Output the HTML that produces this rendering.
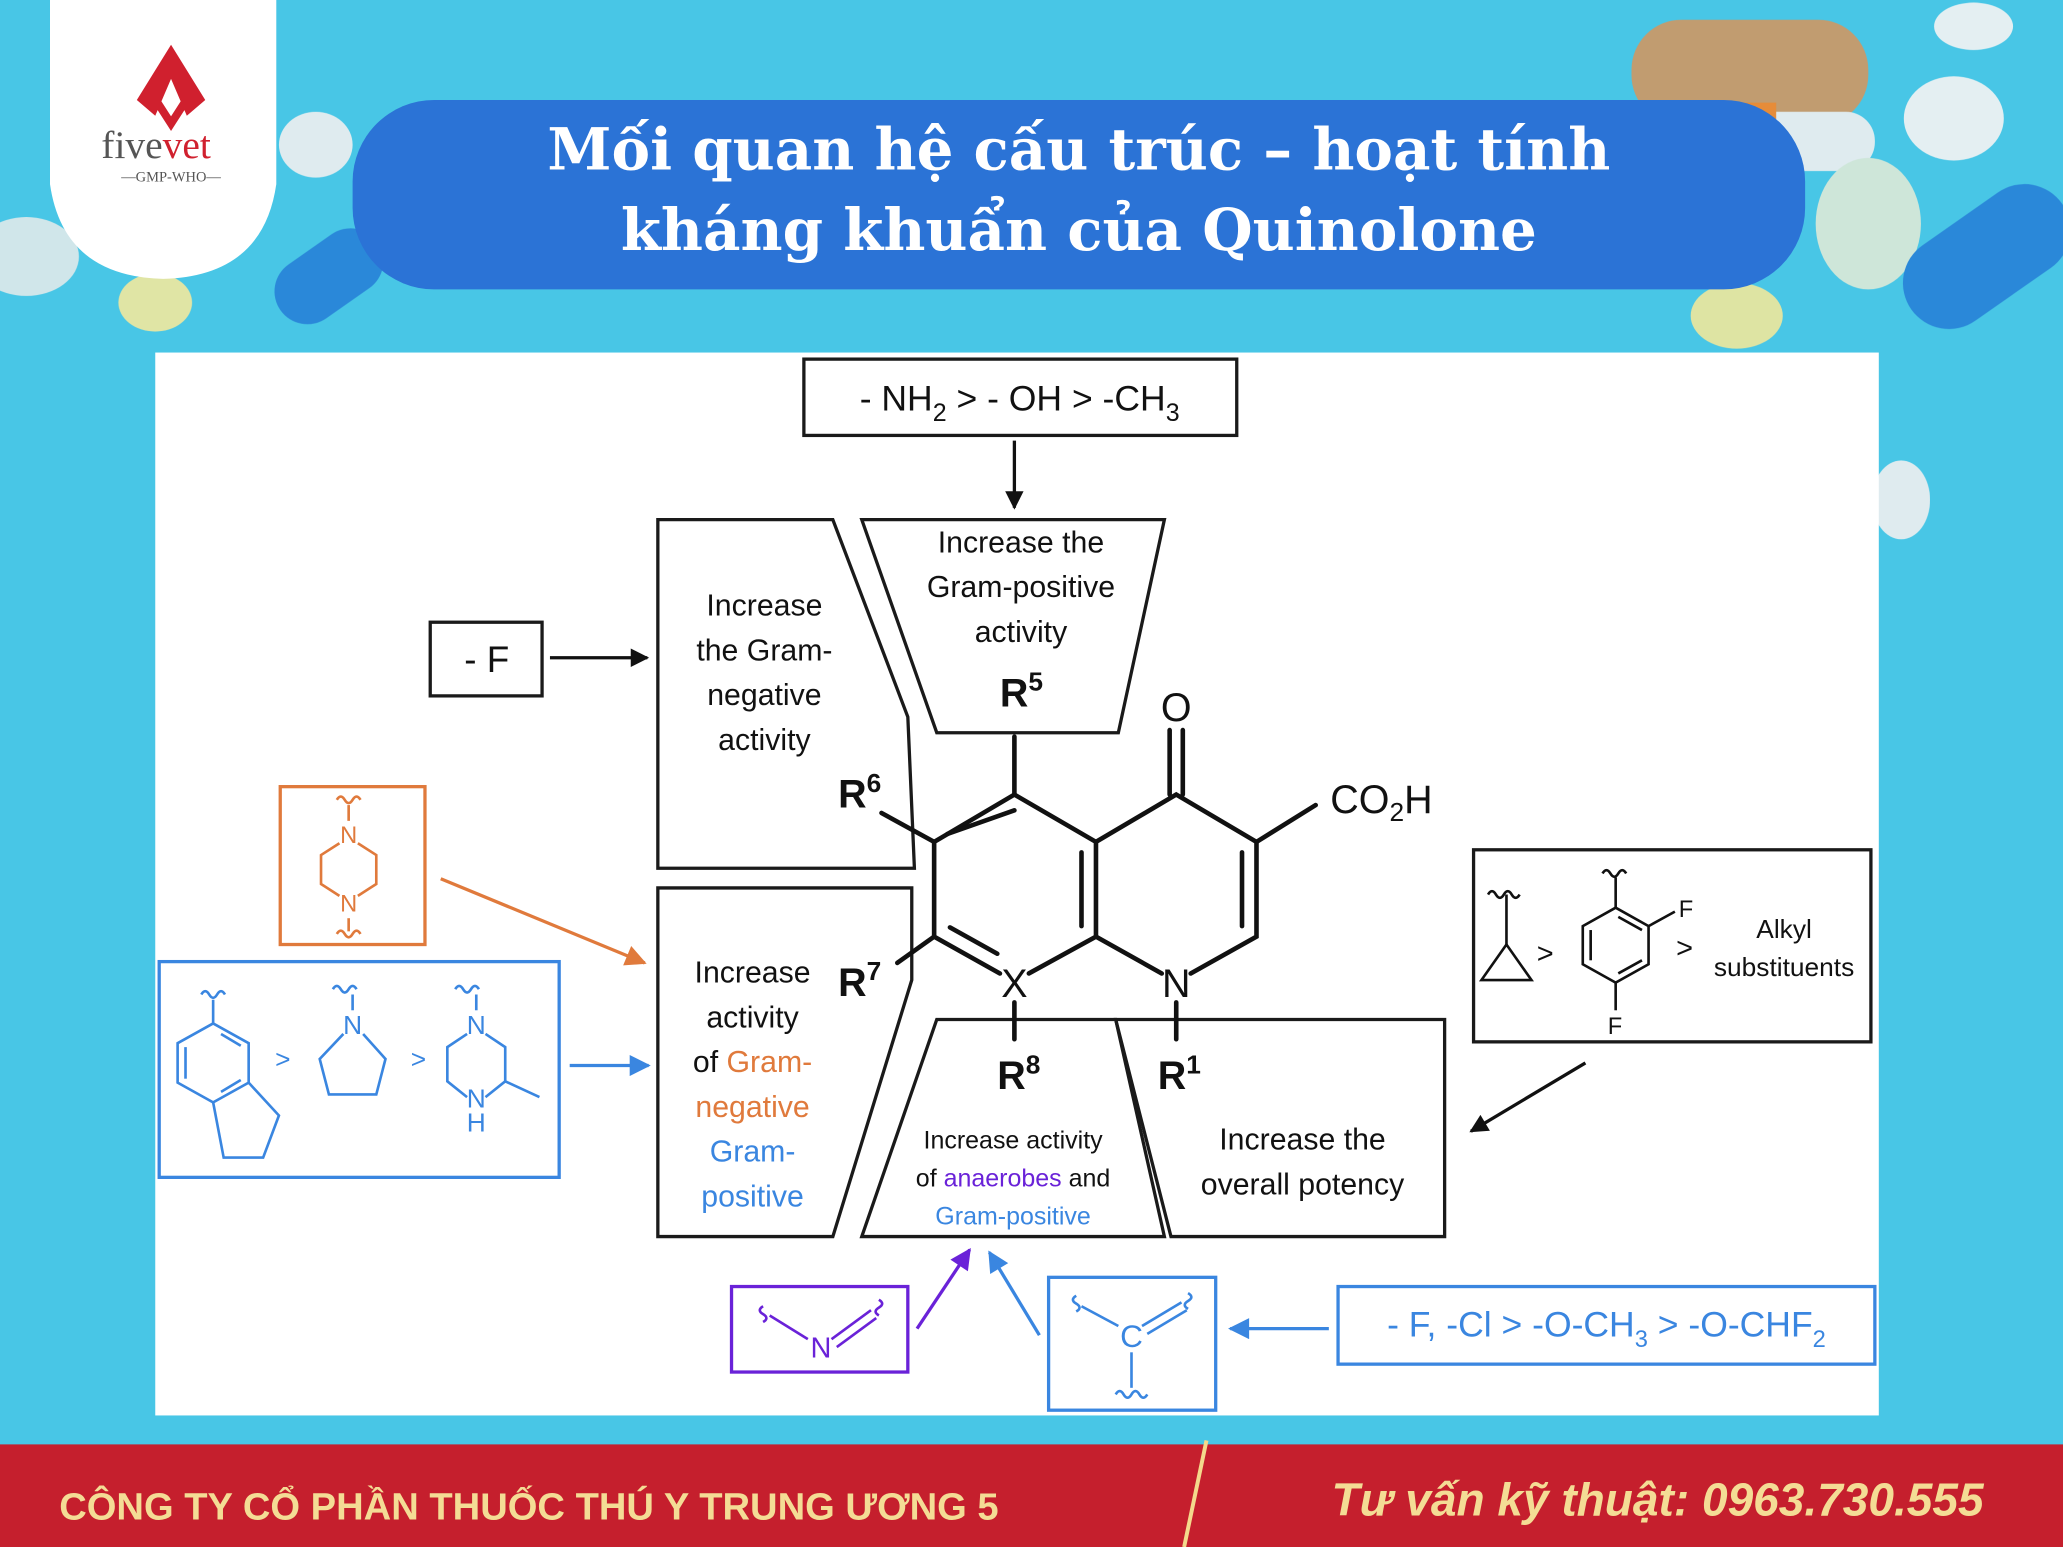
<!DOCTYPE html>
<html><head><meta charset="utf-8"><style>
html,body{margin:0;padding:0;background:#48c6e6;}
svg{display:block;font-family:"Liberation Sans",sans-serif;}
</style></head><body>
<svg width="2063" height="1547" viewBox="0 0 1568 1176" preserveAspectRatio="none" xmlns="http://www.w3.org/2000/svg">
<defs>
<marker id="ak" viewBox="0 0 10 10" markerWidth="18" markerHeight="14" refX="9" refY="5" orient="auto" markerUnits="userSpaceOnUse"><path d="M0,0 L10,5 L0,10 Z" fill="#111"/></marker>
<marker id="ao" viewBox="0 0 10 10" markerWidth="22" markerHeight="16" refX="9" refY="5" orient="auto" markerUnits="userSpaceOnUse"><path d="M0,0 L10,5 L0,10 Z" fill="#e07a3c"/></marker>
<marker id="abl" viewBox="0 0 10 10" markerWidth="22" markerHeight="16" refX="9" refY="5" orient="auto" markerUnits="userSpaceOnUse"><path d="M0,0 L10,5 L0,10 Z" fill="#3a86e0"/></marker>
<marker id="ap" viewBox="0 0 10 10" markerWidth="22" markerHeight="16" refX="9" refY="5" orient="auto" markerUnits="userSpaceOnUse"><path d="M0,0 L10,5 L0,10 Z" fill="#6a22d8"/></marker>
</defs>
<rect width="1568" height="1176" fill="#48c6e6"/>
<g opacity="0.95">
<rect x="1240" y="15" width="180" height="80" rx="38" fill="#c99a6a"/>
<rect x="1300" y="85" width="125" height="45" rx="22" fill="#e8eef0"/>
<rect x="1290" y="78" width="60" height="40" fill="#f08a30"/>
<ellipse cx="1485" cy="90" rx="38" ry="32" fill="#eef2f3"/>
<ellipse cx="1420" cy="170" rx="40" ry="50" fill="#d6e8d8"/>
<ellipse cx="1320" cy="240" rx="35" ry="25" fill="#e7e6a0"/>
<ellipse cx="1500" cy="20" rx="30" ry="18" fill="#eef2f3"/>
<rect x="1440" y="160" width="140" height="70" rx="35" fill="#2a85d8" transform="rotate(-35 1510 195)"/>
<ellipse cx="240" cy="110" rx="28" ry="25" fill="#e8eef0"/>
<rect x="205" y="185" width="90" height="50" rx="25" fill="#2a85d8" transform="rotate(-35 250 210)"/>
<ellipse cx="118" cy="230" rx="28" ry="22" fill="#e9e7a2"/>
<ellipse cx="20" cy="195" rx="40" ry="30" fill="#d8e8ea"/>
<ellipse cx="1445" cy="380" rx="22" ry="30" fill="#e8eef0"/>
</g>
<path d="M38,0 L210,0 L210,140 Q200,210 124,212 Q48,210 38,140 Z" fill="#fff"/>
<path d="M130,34 L104,76 L118,88 L130,60 L142,88 L156,76 Z" fill="#d0202e"/>
<path d="M112,66 L130,94 L148,66" stroke="#d0202e" stroke-width="6" fill="none"/>
<text x="77" y="120" style="font-family:'Liberation Serif',serif" font-size="30" fill="#555">five<tspan fill="#d0202e">vet</tspan></text>
<text x="130" y="138" text-anchor="middle" style="font-family:'Liberation Serif',serif" font-size="11" fill="#555">—GMP-WHO—</text>
<rect x="268" y="76" width="1104" height="144" rx="62" fill="#2b73d6"/>
<text x="820" y="129" text-anchor="middle" style="font-family:'DejaVu Serif','Liberation Serif',serif" font-weight="bold" font-size="44" fill="#fff">Mối quan hệ cấu trúc – hoạt tính</text>
<text x="820" y="190" text-anchor="middle" style="font-family:'DejaVu Serif','Liberation Serif',serif" font-weight="bold" font-size="44" fill="#fff">kháng khuẩn của Quinolone</text>
<rect x="118" y="268" width="1310" height="808" fill="#fff"/>
<g stroke="#1a1a1a" stroke-width="2.5" fill="none">
<rect x="611" y="273" width="329" height="58"/>
<polygon points="655,395 885,395 850,557 712,557"/>
<polygon points="500,395 633,395 690,545 695,660 500,660"/>
<rect x="327" y="473" width="85" height="56"/>
<polygon points="500,675 693,675 693,745 633,940 500,940"/>
<polygon points="712,775 848,775 885,940 655,940"/>
<polygon points="848,775 1098,775 1098,940 890,940"/>
<rect x="1120" y="646" width="302" height="146"/>
</g>
<line x1="771" y1="335" x2="771" y2="386" stroke="#111" stroke-width="2.5" marker-end="url(#ak)"/>
<line x1="418" y1="500" x2="492" y2="500" stroke="#111" stroke-width="2.5" marker-end="url(#ak)"/>
<line x1="1205" y1="808" x2="1118" y2="860" stroke="#111" stroke-width="2.5" marker-end="url(#ak)"/>
<text x="775" y="312" text-anchor="middle" font-size="27" fill="#111">- NH<tspan font-size="19" dy="8">2</tspan><tspan dy="-8"> &gt; - OH &gt; -CH</tspan><tspan font-size="19" dy="8">3</tspan></text>
<text x="370" y="511" text-anchor="middle" font-size="28" fill="#111">- F</text>
<g font-size="23" fill="#111" text-anchor="middle">
<text x="776" y="420">Increase the</text><text x="776" y="454">Gram-positive</text><text x="776" y="488">activity</text>
<text x="581" y="468">Increase</text><text x="581" y="502">the Gram-</text><text x="581" y="536">negative</text><text x="581" y="570">activity</text>
<text x="572" y="747">Increase</text><text x="572" y="781">activity</text>
<text x="572" y="815">of <tspan fill="#e07a3c">Gram-</tspan></text>
<text x="572" y="849" fill="#e07a3c">negative</text>
<text x="572" y="883" fill="#3a86e0">Gram-</text>
<text x="572" y="917" fill="#3a86e0">positive</text>
<text x="990" y="874">Increase the</text><text x="990" y="908">overall potency</text>
</g>
<g font-size="19" fill="#111" text-anchor="middle">
<text x="770" y="873">Increase activity</text>
<text x="770" y="902">of <tspan fill="#6a22d8">anaerobes</tspan> and</text>
<text x="770" y="931" fill="#3a86e0">Gram-positive</text>
</g>
<g stroke="#111" stroke-width="3.5" fill="none" stroke-linecap="round">
<polyline points="771,604 833,640 833,712 782,740"/>
<polyline points="760,740 710,712 710,640 771,604"/>
<polyline points="833,640 894,604 955,640 955,712 905,740"/>
<line x1="883" y1="740" x2="833" y2="712"/>
<line x1="822" y1="648" x2="822" y2="704"/>
<line x1="720" y1="634" x2="771" y2="616"/>
<line x1="722" y1="705" x2="758" y2="725"/>
<line x1="944" y1="648" x2="944" y2="704"/>
<line x1="889" y1="555" x2="889" y2="604"/><line x1="899" y1="555" x2="899" y2="604"/>
<line x1="955" y1="640" x2="1000" y2="612"/>
<line x1="771" y1="604" x2="771" y2="560"/>
<line x1="710" y1="640" x2="670" y2="618"/>
<line x1="710" y1="712" x2="682" y2="732"/>
<line x1="771" y1="762" x2="771" y2="790"/>
<line x1="894" y1="762" x2="894" y2="790"/>
</g>
<g font-size="30" fill="#111" text-anchor="middle">
<text x="894" y="548">O</text>
<text x="771" y="758">X</text>
<text x="894" y="758">N</text>
<text x="1050" y="618">CO<tspan font-size="20" dy="6">2</tspan><tspan dy="-6">H</tspan></text>
</g>
<g font-size="30" font-weight="bold" fill="#111">
<text x="760" y="537">R<tspan font-size="20" dy="-12">5</tspan></text>
<text x="637" y="614">R<tspan font-size="20" dy="-12">6</tspan></text>
<text x="637" y="757">R<tspan font-size="20" dy="-12">7</tspan></text>
<text x="758" y="828">R<tspan font-size="20" dy="-12">8</tspan></text>
<text x="880" y="828">R<tspan font-size="20" dy="-12">1</tspan></text>
</g>
<rect x="213" y="598" width="110" height="120" fill="none" stroke="#e07a3c" stroke-width="2.5"/>
<g stroke="#e07a3c" stroke-width="2" fill="none">
<path d="M256,608 q3,-5 6,0 q3,5 6,0 q3,-5 6,0"/><line x1="265" y1="612" x2="265" y2="624"/>
<polyline points="258,641 244,650 244,672 258,681"/><polyline points="272,641 286,650 286,672 272,681"/>
<line x1="265" y1="698" x2="265" y2="708"/><path d="M256,710 q3,-5 6,0 q3,5 6,0 q3,-5 6,0"/>
</g>
<text x="265" y="641" text-anchor="middle" font-size="18" fill="#e07a3c">N</text>
<text x="265" y="693" text-anchor="middle" font-size="18" fill="#e07a3c">N</text>
<line x1="335" y1="668" x2="490" y2="732" stroke="#e07a3c" stroke-width="2.5" marker-end="url(#ao)"/>
<rect x="121" y="731" width="304" height="164" fill="none" stroke="#3a86e0" stroke-width="2.5"/>
<g stroke="#3a86e0" stroke-width="2" fill="none">
<path d="M153,756 q3,-5 6,0 q3,5 6,0 q3,-5 6,0"/><line x1="162" y1="760" x2="162" y2="778"/>
<polygon points="162,778 189,793 189,823 162,838 135,823 135,793"/>
<line x1="168" y1="786" x2="183" y2="795"/><line x1="141" y1="796" x2="141" y2="820"/><line x1="168" y1="830" x2="183" y2="821"/>
<polyline points="189,823 212,848 200,880 170,880 162,838"/>
<path d="M253,752 q3,-5 6,0 q3,5 6,0 q3,-5 6,0"/><line x1="268" y1="756" x2="268" y2="768"/>
<polyline points="261,786 243,805 250,832 286,832 293,805 276,786"/>
<path d="M346,752 q3,-5 6,0 q3,5 6,0 q3,-5 6,0"/><line x1="362" y1="756" x2="362" y2="768"/>
<polyline points="355,786 340,796 340,822 355,834"/><polyline points="369,786 384,796 384,822 369,834"/>
<line x1="384" y1="822" x2="410" y2="834"/>
</g>
<g font-size="20" fill="#3a86e0" text-anchor="middle">
<text x="268" y="786">N</text><text x="362" y="786">N</text><text x="362" y="842">N</text><text x="362" y="860">H</text>
<text x="215" y="812">&gt;</text><text x="318" y="812">&gt;</text>
</g>
<line x1="433" y1="810" x2="493" y2="810" stroke="#3a86e0" stroke-width="2.5" marker-end="url(#abl)"/>
<g stroke="#111" stroke-width="2" fill="none">
<path d="M1131,680 q3,-5 6,0 q3,5 6,0 q3,-5 6,0 q3,5 6,0"/><line x1="1145" y1="680" x2="1145" y2="718"/>
<polygon points="1145,718 1126,745 1164,745"/>
<path d="M1218,664 q3,-5 6,0 q3,5 6,0 q3,-5 6,0"/><line x1="1228" y1="667" x2="1228" y2="690"/>
<polygon points="1228,690 1253,704 1253,733 1228,747 1203,733 1203,704"/>
<line x1="1230" y1="697" x2="1248" y2="707"/><line x1="1209" y1="707" x2="1209" y2="730"/><line x1="1230" y1="740" x2="1248" y2="730"/>
<line x1="1253" y1="704" x2="1273" y2="693"/><line x1="1228" y1="747" x2="1228" y2="768"/>
</g>
<g fill="#111" font-size="18">
<text x="1276" y="697">F</text><text x="1222" y="786">F</text>
<text x="1168" y="732" font-size="22">&gt;</text><text x="1274" y="728" font-size="22">&gt;</text>
<text x="1356" y="713" text-anchor="middle" font-size="20">Alkyl</text>
<text x="1356" y="742" text-anchor="middle" font-size="20">substituents</text>
</g>
<rect x="556" y="978" width="134" height="65" fill="none" stroke="#6a22d8" stroke-width="2.5"/>
<g stroke="#6a22d8" stroke-width="2" fill="none">
<path d="M580,993 q-5,3 0,6 q5,3 0,6"/><line x1="585" y1="1000" x2="614" y2="1018"/>
<line x1="632" y1="1018" x2="662" y2="996"/><line x1="636" y1="1024" x2="666" y2="1002"/>
<path d="M668,988 q5,3 0,6 q-5,3 0,6"/>
</g>
<text x="624" y="1032" text-anchor="middle" font-size="22" fill="#6a22d8">N</text>
<line x1="697" y1="1010" x2="737" y2="950" stroke="#6a22d8" stroke-width="2.5" marker-end="url(#ap)"/>
<line x1="790" y1="1015" x2="752" y2="952" stroke="#3a86e0" stroke-width="2.5" marker-end="url(#abl)"/>
<rect x="797" y="971" width="127" height="101" fill="none" stroke="#3a86e0" stroke-width="2.5"/>
<g stroke="#3a86e0" stroke-width="2" fill="none">
<path d="M818,985 q-5,3 0,6 q5,3 0,6"/><line x1="822" y1="993" x2="850" y2="1008"/>
<line x1="868" y1="1008" x2="898" y2="990"/><line x1="872" y1="1014" x2="902" y2="996"/>
<path d="M903,983 q5,3 0,6 q-5,3 0,6"/>
<line x1="860" y1="1028" x2="860" y2="1055"/>
<path d="M848,1060 q3,-5 6,0 q3,5 6,0 q3,-5 6,0 q3,5 6,0"/>
</g>
<text x="860" y="1024" text-anchor="middle" font-size="24" fill="#3a86e0">C</text>
<line x1="1010" y1="1010" x2="935" y2="1010" stroke="#3a86e0" stroke-width="2.5" marker-end="url(#abl)"/>
<rect x="1017" y="978" width="408" height="59" fill="none" stroke="#3a86e0" stroke-width="2.5"/>
<text x="1221" y="1016" text-anchor="middle" font-size="27" fill="#3a86e0">- F, -Cl &gt; -O-CH<tspan font-size="18" dy="8">3</tspan><tspan dy="-8"> &gt; -O-CHF</tspan><tspan font-size="18" dy="8">2</tspan></text>
<rect x="0" y="1098" width="1568" height="78" fill="#c51f2d"/>
<line x1="917" y1="1095" x2="900" y2="1176" stroke="#f4d98c" stroke-width="3"/>
<text x="45" y="1155" font-size="29" font-weight="bold" fill="#f4dc95">CÔNG TY CỔ PHẦN THUỐC THÚ Y TRUNG ƯƠNG 5</text>
<text x="1012" y="1152" font-size="35" font-weight="bold" font-style="italic" fill="#f4dc95">Tư vấn kỹ thuật: 0963.730.555</text>
</svg>
</body></html>
